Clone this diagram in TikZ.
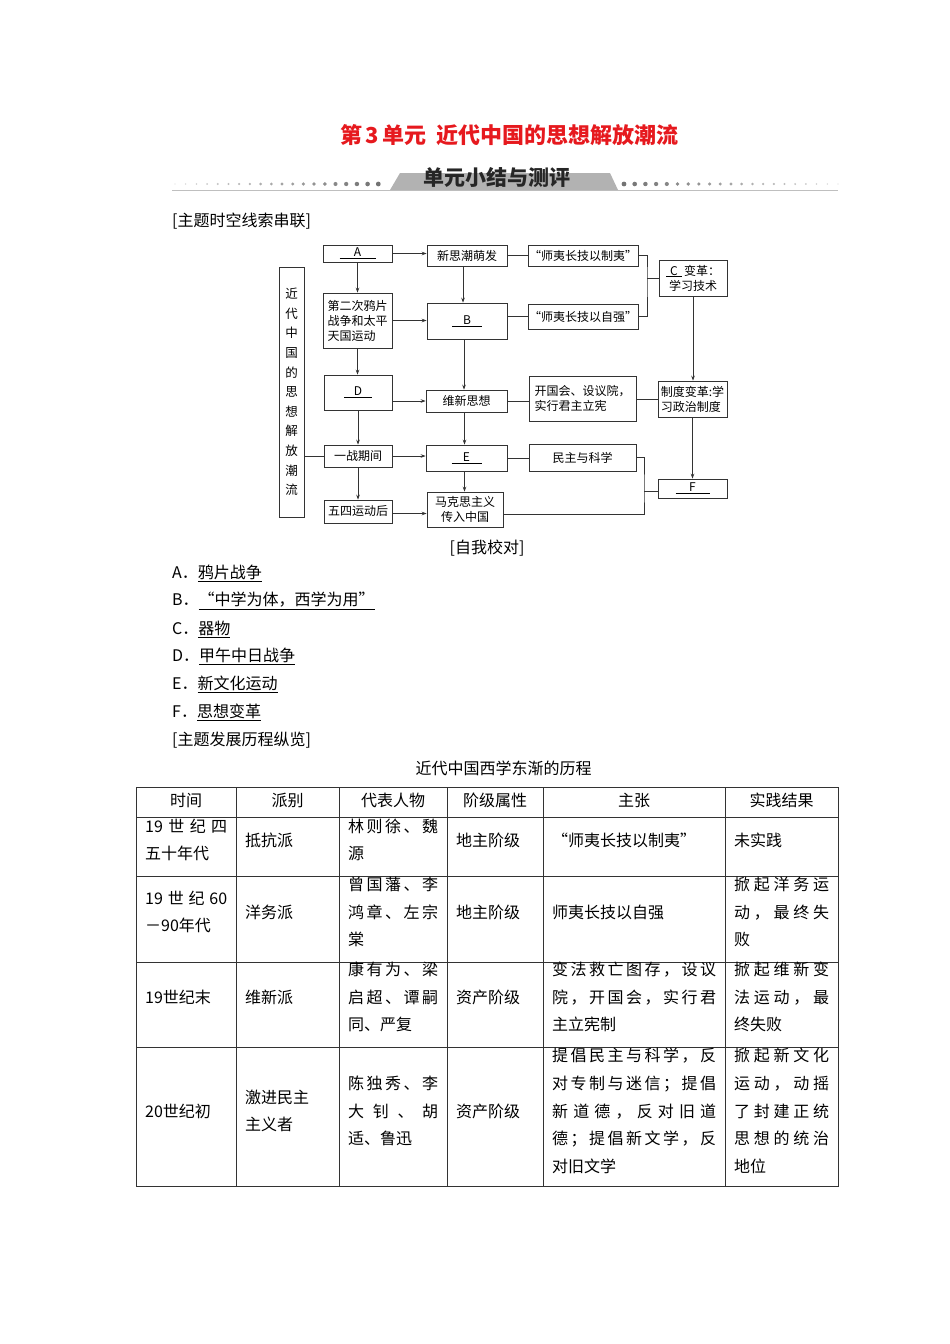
\documentclass[tikz,border=0pt]{standalone}
\usepackage{fontspec}
\setmainfont{Noto Sans CJK SC}
\usetikzlibrary{arrows.meta,calc,positioning}
\definecolor{titlered}{RGB}{230,25,30}
\newcommand{\fillin}[2][26pt]{\underline{\makebox[#1]{#2}}}
\newcommand{\fulline}[1]{\makebox[\hsize][s]{\spaceskip=0pt plus 1fil\relax #1}}

\begin{document}
\begin{tikzpicture}[x=1pt,y=-1pt,
  bx/.style={draw=black!80,line width=0.75pt,inner sep=1pt,align=center,
             font=\fontsize{12}{15}\selectfont},
  ln/.style={draw=black!80,line width=0.75pt},
  arr/.style={ln,-{Stealth[length=5pt,width=3.6pt]}},
  txt/.style={anchor=west,inner sep=0pt,font=\fontsize{16}{18}\selectfont},
  hd/.style={inner sep=0pt,font=\fontsize{16}{18}\selectfont},
  cell/.style={anchor=west,inner sep=0pt,align=left,text width=#1,
               font=\fontsize{16}{27.7}\selectfont}]
  \useasboundingbox (0,0) rectangle (950,1344);

  % title and banner
  \node[font=\fontsize{22}{24}\selectfont\bfseries,text=titlered] (title) at (509.5,135)
    {第\,3\,单元\ \ 近代中国的思想解放潮流};
  \draw[black!25,line width=1pt] (172,190) -- (838,190);
  \foreach \i in {0,...,19}{
    \pgfmathsetmacro\dr{0.7+1.7*\i/19}
    \pgfmathsetmacro\dc{15+40*\i/19}
    \fill[black!\dc] (175+10.7*\i,184) circle (\dr pt);
  }
  \foreach \i in {0,...,20}{
    \pgfmathsetmacro\dr{2.4-1.7*\i/20}
    \pgfmathsetmacro\dc{55-40*\i/20}
    \fill[black!\dc] (624+10.7*\i,184) circle (\dr pt);
  }
  \fill[black!30] (390,190) -- (400,173) -- (610,173) -- (618,190) -- cycle;
  \node[font=\fontsize{21}{23}\selectfont\bfseries,text=black!85] (banner) at (497,177)
    {单元小结与测评};

  \node[txt] (h1) at (172,221) {[主题时空线索串联]};

  % diagram
  \node[bx,minimum width=25,minimum height=250,font=\fontsize{12.5}{19.6}\selectfont] (T) at (291.5,392)
    {近\\代\\中\\国\\的\\思\\想\\解\\放\\潮\\流};
  \node[bx,minimum width=69,minimum height=17] (A) at (357.5,253.5) {\fillin[36pt]{A}};
  \node[bx,minimum width=80,minimum height=21] (N1) at (467,255.5) {新思潮萌发};
  \node[bx,minimum width=108,minimum height=21] (Q1) at (583,255.5) {“师夷长技以制夷”};
  \node[bx,minimum width=68,minimum height=36] (C) at (693,278) {\fillin[16pt]{C}\,变革：\\学习技术};
  \node[bx,minimum width=69,minimum height=55,align=left] (O2) at (357.5,320.5) {第二次鸦片\\战争和太平\\天国运动};
  \node[bx,minimum width=80,minimum height=36] (B) at (467,321) {\fillin[30pt]{B}};
  \node[bx,minimum width=108,minimum height=25] (Q2) at (583,316.5) {“师夷长技以自强”};
  \node[bx,minimum width=68,minimum height=35] (D) at (358,392.5) {\fillin[28pt]{D}};
  \node[bx,minimum width=81,minimum height=22] (W) at (466.5,401) {维新思想};
  \node[bx,minimum width=107,minimum height=45,align=left] (K) at (582.5,398.5) {开国会、设议院，\\实行君主立宪};
  \node[bx,minimum width=69,minimum height=36,align=left,inner sep=0.5pt] (Z) at (692.5,399) {制度变革:学\\习政治制度};
  \node[bx,minimum width=68,minimum height=22] (Y) at (358,456) {一战期间};
  \node[bx,minimum width=81,minimum height=26] (E) at (466.5,458) {\fillin[30pt]{E}};
  \node[bx,minimum width=107,minimum height=27] (M) at (582.5,457.5) {民主与科学};
  \node[bx,minimum width=69,minimum height=19] (F) at (692.5,488.5) {\fillin[34pt]{F}};
  \node[bx,minimum width=68,minimum height=23] (W4) at (358,511.5) {五四运动后};
  \node[bx,minimum width=76,minimum height=35] (MK) at (465,509.5) {马克思主义\\传入中国};
  \coordinate (j1) at (647,278);
  \coordinate (j2) at (644,491);

  \draw[arr] (A.east) -- (A.east -| N1.west);
  \draw[arr] (A.south) -- (A.south |- O2.north);
  \draw[arr] (O2.south) -- (O2.south |- D.north);
  \draw[arr] (D.south) -- (D.south |- Y.north);
  \draw[arr] (Y.south) -- (Y.south |- W4.north);
  \draw[arr] ([xshift=-4pt]N1.south) -- ([xshift=-4pt]N1.south |- B.north);
  \draw[arr] ([xshift=-3pt]B.south) -- ([xshift=-3pt]B.south |- W.north);
  \draw[arr] ([xshift=-2pt]W.south) -- ([xshift=-2pt]W.south |- E.north);
  \draw[arr] ([xshift=-2pt]E.south) -- ([xshift=-2pt]E.south |- MK.north);
  \draw[arr] (O2.east) -- (O2.east -| B.west);
  \draw[arr] (D.east |- W.west) -- (W.west);
  \draw[arr] (Y.east) -- (Y.east -| E.west);
  \draw[arr] ([yshift=-2pt]W4.east) -- ([yshift=-2pt]W4.east -| MK.west);
  \draw[ln] (T.east |- Y.west) -- (Y.west);
  \draw[ln] (N1.east) -- (N1.east -| Q1.west);
  \draw[ln] (B.east |- Q2.west) -- (Q2.west);
  \draw[ln] (Q1.east) -| (j1) |- (Q2.east);
  \draw[ln] (j1) -- (j1 -| C.west);
  \draw[arr] (C.south) -- (C.south |- Z.north);
  \draw[ln] (W.east) -- (W.east -| K.west);
  \draw[ln] (K.east |- Z.west) -- (Z.west);
  \draw[ln] (E.east) -- (E.east -| M.west);
  \draw[ln] (M.east) -| (j2) |- ([yshift=-5pt]MK.east);
  \draw[ln] (j2) -- (j2 -| F.west);
  \draw[arr] (Z.south) -- (Z.south |- F.north);

  % answers
  \node[hd] (ck) at (487,548) {[自我校对]};
  \node[txt] (la) at (172,573) {A．\underline{鸦片战争}};
  \node[txt] (lb) at (172,601) {B．\underline{“中学为体，西学为用”}};
  \node[txt] (lc) at (172,629) {C．\underline{器物}};
  \node[txt] (ld) at (172,656) {D．\underline{甲午中日战争}};
  \node[txt] (le) at (172,684) {E．\underline{新文化运动}};
  \node[txt] (lf) at (172,712) {F．\underline{思想变革}};
  \node[txt] (h2) at (172,740) {[主题发展历程纵览]};
  \node[hd] (cap) at (503.5,768) {近代中国西学东渐的历程};

  % table
  \draw[black!80,line width=0.8pt] (136,787) rectangle (838,1186);
  \foreach \yy in {817,876,962,1047}
    \draw[black!80,line width=0.7pt] (136,\yy) -- (838,\yy);
  \foreach \xx in {236,339,447,543,725}
    \draw[black!80,line width=0.7pt] (\xx,787) -- (\xx,1186);

  \node[hd] (t01) at (186,800) {时间};
  \node[hd] (t02) at (287.5,800) {派别};
  \node[hd] (t03) at (393,800) {代表人物};
  \node[hd] (t04) at (495,800) {阶级属性};
  \node[hd] (t05) at (634,800) {主张};
  \node[hd] (t06) at (781.5,800) {实践结果};

  \node[cell=82pt] (t11) at (145,840) {\fulline{19 世 纪 四}\\五十年代};
  \node[cell=85pt] (t12) at (245,840) {抵抗派};
  \node[cell=90pt] (t13) at (348,840) {\fulline{林 则 徐 、 魏}\\源};
  \node[cell=78pt] (t14) at (456,840) {地主阶级};
  \node[cell=164pt] (t15) at (552,840) {“师夷长技以制夷”};
  \node[cell=95pt] (t16) at (734,840) {未实践};

  \node[cell=82pt] (t21) at (145,912) {\fulline{19 世 纪 60}\\－90年代};
  \node[cell=85pt] (t22) at (245,912) {洋务派};
  \node[cell=90pt] (t23) at (348,912) {\fulline{曾 国 藩 、 李}\\\fulline{鸿 章 、 左 宗}\\棠};
  \node[cell=78pt] (t24) at (456,912) {地主阶级};
  \node[cell=164pt] (t25) at (552,912) {师夷长技以自强};
  \node[cell=95pt] (t26) at (734,912) {\fulline{掀 起 洋 务 运}\\\fulline{动 ， 最 终 失}\\败};

  \node[cell=82pt] (t31) at (145,997) {19世纪末};
  \node[cell=85pt] (t32) at (245,997) {维新派};
  \node[cell=90pt] (t33) at (348,997) {\fulline{康 有 为 、 梁}\\\fulline{启 超 、 谭 嗣}\\同、严复};
  \node[cell=78pt] (t34) at (456,997) {资产阶级};
  \node[cell=164pt] (t35) at (552,997) {\fulline{变 法 救 亡 图 存 ， 设 议}\\\fulline{院 ， 开 国 会 ， 实 行 君}\\主立宪制};
  \node[cell=95pt] (t36) at (734,997) {\fulline{掀 起 维 新 变}\\\fulline{法 运 动 ， 最}\\终失败};

  \node[cell=82pt] (t41) at (145,1111) {20世纪初};
  \node[cell=85pt] (t42) at (245,1111) {激进民主\\主义者};
  \node[cell=90pt] (t43) at (348,1111) {\fulline{陈 独 秀 、 李}\\\fulline{大 钊 、 胡}\\适、鲁迅};
  \node[cell=78pt] (t44) at (456,1111) {资产阶级};
  \node[cell=164pt] (t45) at (552,1111) {\fulline{提 倡 民 主 与 科 学 ， 反}\\\fulline{对 专 制 与 迷 信 ； 提 倡}\\\fulline{新 道 德 ， 反 对 旧 道}\\\fulline{德 ； 提 倡 新 文 学 ， 反}\\对旧文学};
  \node[cell=95pt] (t46) at (734,1111) {\fulline{掀 起 新 文 化}\\\fulline{运 动 ， 动 摇}\\\fulline{了 封 建 正 统}\\\fulline{思 想 的 统 治}\\地位};
\end{tikzpicture}
\end{document}
